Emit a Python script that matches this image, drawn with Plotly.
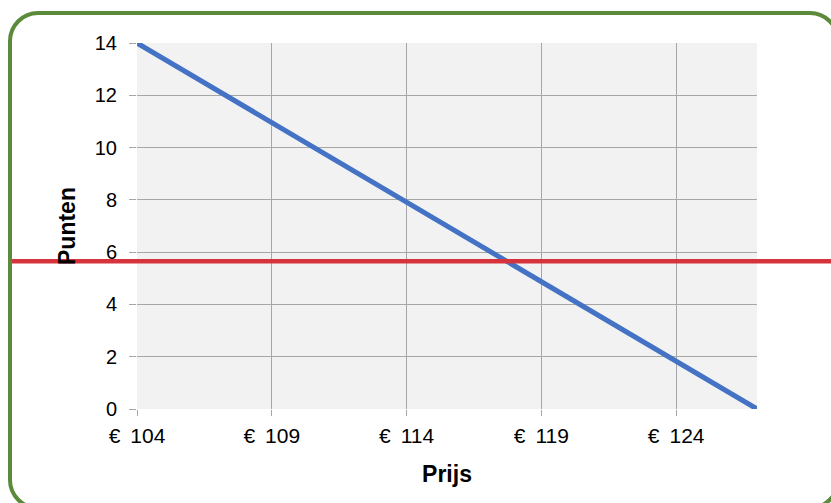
import plotly.graph_objects as go

# Data
prijs = [104, 109, 114, 119, 124, 127]
punten = [14.0, 10.96, 7.91, 4.87, 1.83, 0.0]
drempel = 5.65  # red horizontal reference line (Punten)

x_tick_vals = [104, 109, 114, 119, 124]
x_tick_text = ["€\u00a0\u2009104", "€\u00a0\u2009109", "€\u00a0\u2009114", "€\u00a0\u2009119", "€\u00a0\u2009124"]
y_tick_vals = [0, 2, 4, 6, 8, 10, 12, 14]

W, H = 831, 503
ML, MR, MT, MB = 137, 74, 43, 94
PW, PH = W - ML - MR, H - MT - MB


def px(xp):
    return (xp - ML) / PW


def py(yp):
    return (H - MB - yp) / PH


# rounded border path (pixel geometry -> paper coordinates)
bx0, bx1, by0, by1, r = 10, 838, 13, 508, 28
k = 0.55 * r
path = (
    f"M {px(bx0 + r)},{py(by0)} L {px(bx1 - r)},{py(by0)} "
    f"C {px(bx1 - r + k)},{py(by0)} {px(bx1)},{py(by0 + r - k)} {px(bx1)},{py(by0 + r)} "
    f"L {px(bx1)},{py(by1 - r)} "
    f"C {px(bx1)},{py(by1 - r + k)} {px(bx1 - r + k)},{py(by1)} {px(bx1 - r)},{py(by1)} "
    f"L {px(bx0 + r)},{py(by1)} "
    f"C {px(bx0 + r - k)},{py(by1)} {px(bx0)},{py(by1 - r + k)} {px(bx0)},{py(by1 - r)} "
    f"L {px(bx0)},{py(by0 + r)} "
    f"C {px(bx0)},{py(by0 + r - k)} {px(bx0 + r - k)},{py(by0)} {px(bx0 + r)},{py(by0)} Z"
)

fig = go.Figure()
fig.add_trace(go.Scatter(
    x=prijs, y=punten, mode="lines",
    line=dict(color="#4472C4", width=5),
    showlegend=False, hoverinfo="skip",
))

fam = "Liberation Sans, Arial, sans-serif"
yfont = dict(family=fam, size=20, color="#000000")
xfont = dict(family=fam, size=21, color="#000000")
tfont = dict(family=fam, size=23, color="#000000")
grid = "#a6a6a6"

fig.update_layout(
    width=W, height=H,
    margin=dict(l=ML, r=MR, t=MT, b=MB, autoexpand=False),
    paper_bgcolor="white",
    plot_bgcolor="#f2f2f2",
    font=yfont,
    showlegend=False,
    xaxis=dict(
        range=[104, 127], tickvals=x_tick_vals, ticktext=x_tick_text,
        showgrid=True, gridcolor=grid, gridwidth=1.3,
        zeroline=False, showline=False,
        ticks="outside", ticklen=6, tickcolor=grid, tickwidth=1.3,
        ticklabelstandoff=2,
        tickfont=xfont, automargin=False,
        title=dict(text="<b>Prijs</b>", font=tfont, standoff=19),
    ),
    yaxis=dict(
        range=[0, 14], tickvals=y_tick_vals,
        showgrid=True, gridcolor=grid, gridwidth=1.3,
        zeroline=False, showline=False,
        ticks="outside", ticklen=7, tickcolor=grid, tickwidth=1.3,
        ticklabelstandoff=8,
        tickfont=yfont, automargin=False,
        title=dict(text="<b>Punten</b>", font=tfont, standoff=12),
    ),
    shapes=[
        dict(type="line", xref="paper", yref="y",
             x0=px(10), x1=px(W + 10), y0=drempel, y1=drempel,
             line=dict(color="#D5343C", width=4.5), layer="above"),
        dict(type="path", xref="paper", yref="paper", path=path,
             line=dict(color="#5B8A3A", width=4), layer="above"),
    ],
)

fig.write_html(
    "out.html",
    config={"displayModeBar": False},
    post_script="document.body.style.margin='0px';document.body.style.overflow='hidden';",
)
